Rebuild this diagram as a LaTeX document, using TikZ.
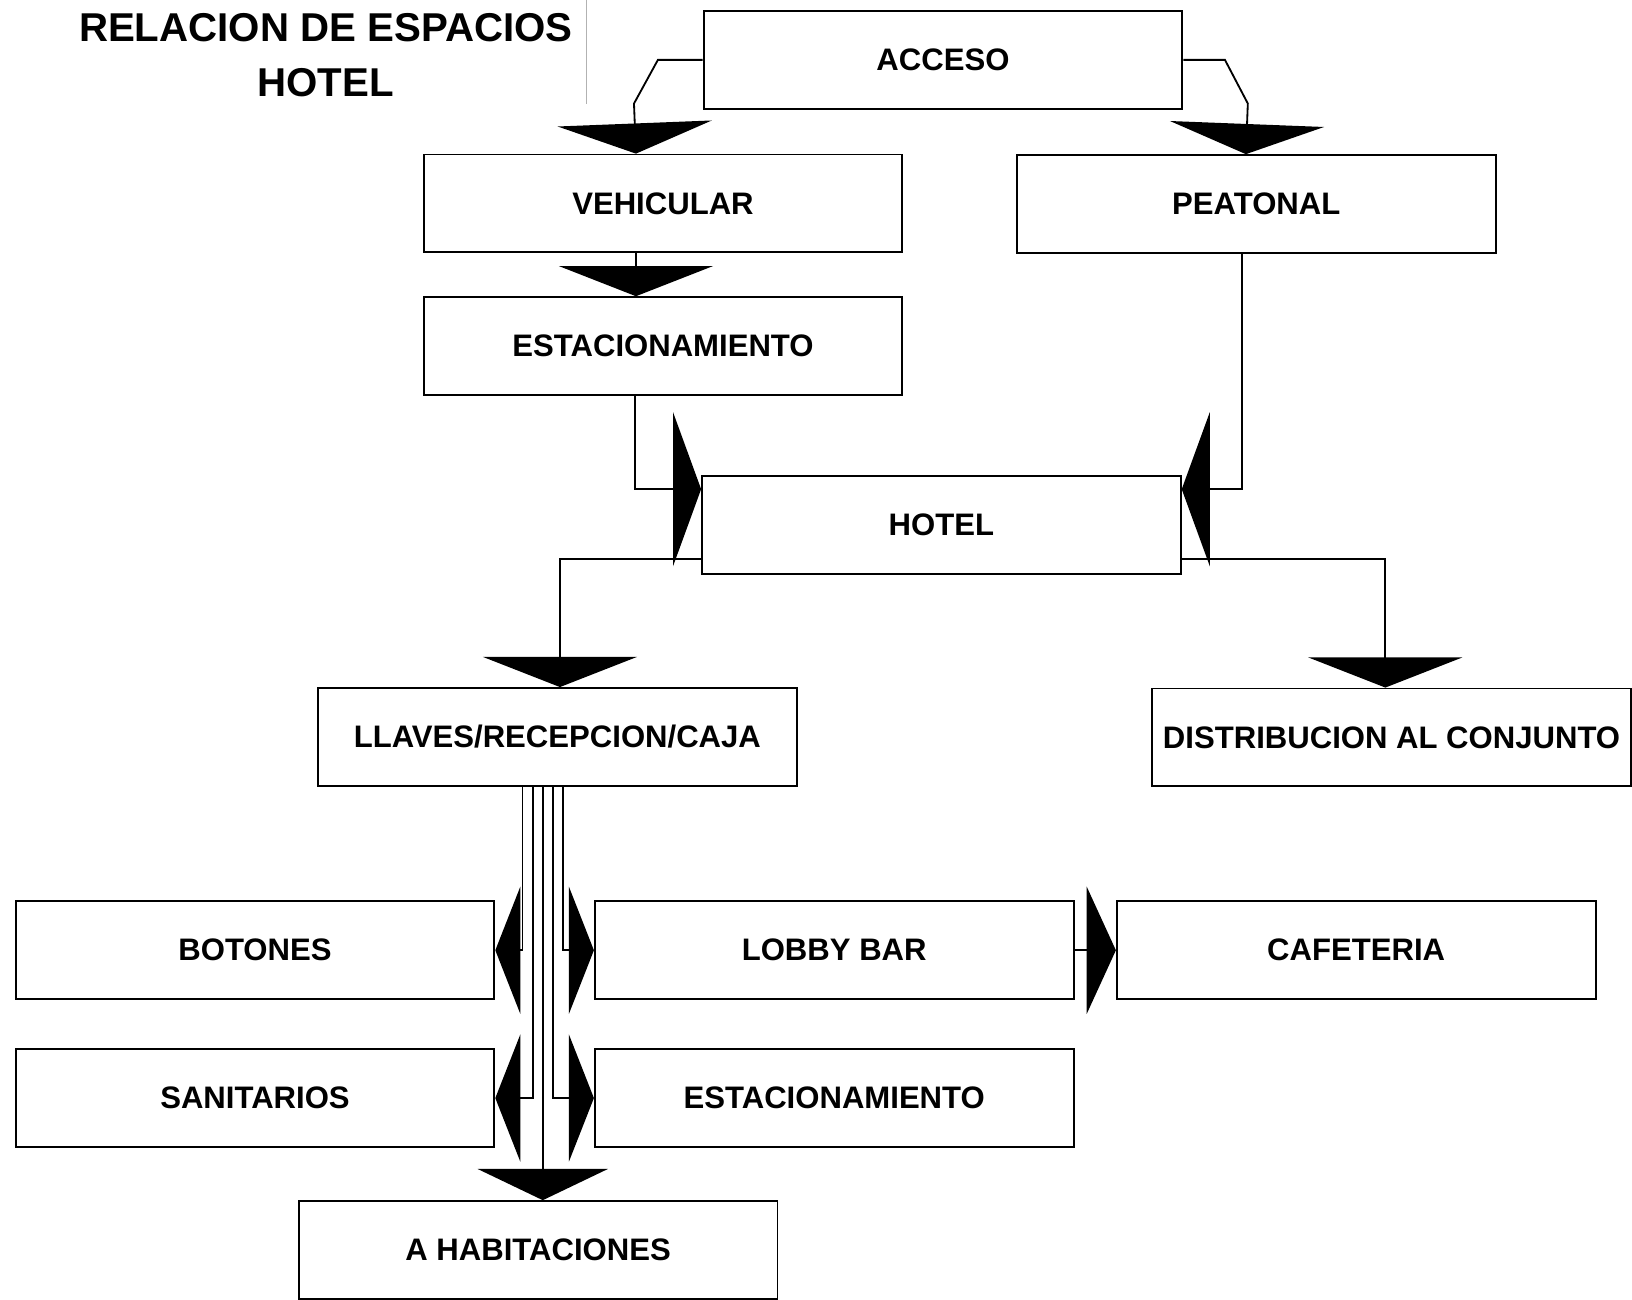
\documentclass[tikz,border=0pt]{standalone}
\usepackage{fontspec}
\setmainfont{Liberation Sans}
\usetikzlibrary{arrows.meta,calc}

\begin{document}
\begin{tikzpicture}[x=0.2mm, y=-0.2mm,
  every node/.style={font=\bfseries\fontsize{17}{20}\selectfont},
  box/.style={draw, line width=1pt, minimum width=92mm, minimum height=18.8mm, inner sep=0pt},
  conn/.style={draw, line width=1pt},
  big/.style={-{Triangle[width=29.6mm,length=5.8mm]}},
  side/.style={-{Triangle[width=29.6mm,length=5.4mm]}},
  small/.style={-{Triangle[width=24.4mm,length=4.8mm]}}]
  \useasboundingbox (0,0) rectangle (1568,1249);
  % titulo
  \node[align=center, font=\bfseries\fontsize{22}{30}\selectfont] (tit) at (313,53) {RELACION DE ESPACIOS\\HOTEL};
  \draw[gray!60, line width=0.4pt] (563,0) -- (563,100);
  % espacios
  \node[box] (acc) at (906,57.5) {ACCESO};
  \node[box] (veh) at (637,195.5) {VEHICULAR};
  \node[box] (pea) at (1207,196) {PEATONAL};
  \node[box] (est) at (637,332.5) {ESTACIONAMIENTO};
  \node[box] (hot) at (904.5,504.5) {HOTEL};
  \node[box] (lla) at (535.5,708) {LLAVES/RECEPCION/CAJA};
  \node[box] (dis) at (1337,708.5) {DISTRIBUCION AL CONJUNTO};
  \node[box] (bot) at (245,913) {BOTONES};
  \node[box] (lob) at (801.5,913) {LOBBY BAR};
  \node[box] (caf) at (1303,913) {CAFETERIA};
  \node[box] (san) at (245,1055) {SANITARIOS};
  \node[box] (est2) at (801.5,1055) {ESTACIONAMIENTO};
  \node[box] (hab) at (517,1201) {A HABITACIONES};
  % relaciones
  \draw[conn,big] (acc.west) -- ++(-43,0) -- ++(-23,42) -- ($(veh.north)+(-26,0)$);
  \draw[conn,big] (acc.east) -- ++(40,0) -- ++(22,42) -- ($(pea.north)+(-10,0)$);
  \draw[conn,big] ($(veh.south)+(-26,0)$) -- ($(est.north)+(-26,0)$);
  \draw[conn,side] ($(est.south)+(-27,0)$) |- ($(hot.west)+(0,-34.5)$);
  \draw[conn,side] ($(pea.south)+(-14,0)$) |- ($(hot.east)+(0,-34.5)$);
  \draw[conn,big] ($(hot.west)+(0,32.5)$) -| ($(lla.north)+(2.5,0)$);
  \draw[conn,big] ($(hot.east)+(0,32.5)$) -| ($(dis.north)+(-6,0)$);
  \draw[conn,small] ($(lla.south)+(-33.5,0)$) |- (bot.east);
  \draw[conn,small] ($(lla.south)+(-23.5,0)$) |- (san.east);
  \draw[conn,-{Triangle[width=25mm,length=6mm]}] ($(lla.south)+(-14,0)$) -- ($(hab.north)+(4.5,0)$);
  \draw[conn,small] ($(lla.south)+(-4.5,0)$) |- (est2.west);
  \draw[conn,small] ($(lla.south)+(5.5,0)$) |- (lob.west);
  \draw[conn,-{Triangle[width=24.4mm,length=5.6mm]}] (lob) -- (caf);
\end{tikzpicture}
\end{document}
